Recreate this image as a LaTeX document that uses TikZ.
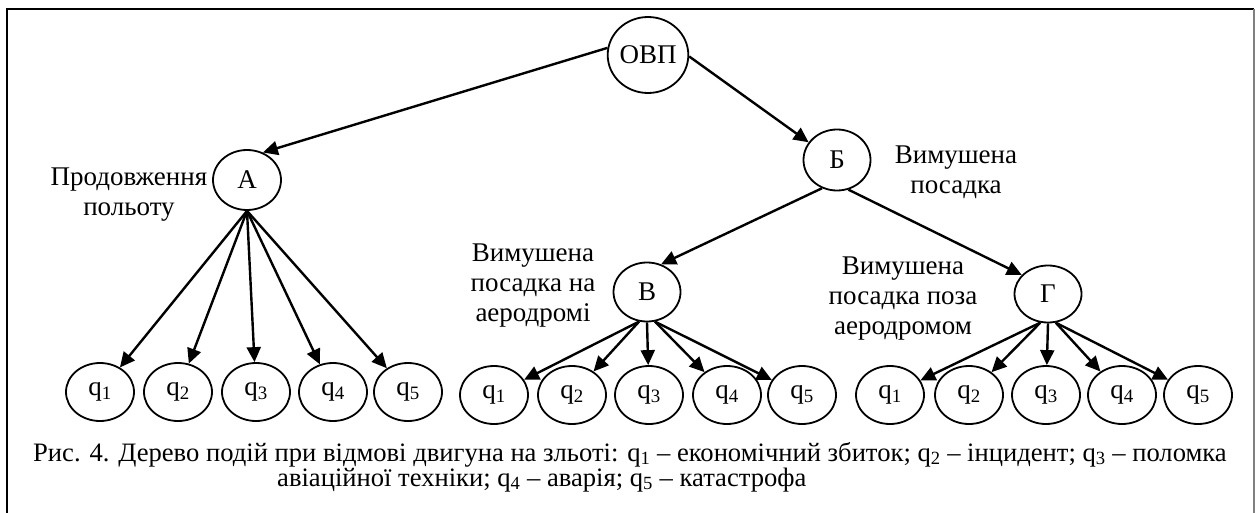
\documentclass[tikz,border=0pt]{standalone}
\usepackage{fontspec}
\setmainfont{Liberation Serif}
\usetikzlibrary{arrows, arrows.meta}
\usetikzlibrary{shapes.geometric}

\begin{document}
\begin{tikzpicture}[x=1pt, y=-1pt,
    event/.style={ellipse, draw, line width=1.8pt, inner sep=0pt, minimum width=67pt, minimum height=59pt, font=\fontsize{27}{30}\selectfont},
    outcome/.style={ellipse, draw, line width=1.8pt, inner sep=0pt, minimum width=68pt, minimum height=58pt, font=\fontsize{27}{30}\selectfont},
    note/.style={align=center, inner sep=0pt, font=\fontsize{27}{30}\selectfont},
    caption/.style={anchor=base west, inner sep=0pt, font=\fontsize{26.6}{20}\selectfont},
    arr/.style={-{Triangle[length=15pt, width=14pt]}, line width=2.4pt}]
    \useasboundingbox (0,0) rectangle (1255,513);
    % frame
    \draw[line width=2pt] (7,513) -- (7,9) -- (1254,9);
    \draw[gray, line width=1.2pt] (1254,9) -- (1254,513);

    \node[event, minimum width=77pt, minimum height=76pt] (ovp) at (648,55) {ОВП};
    \node[event, minimum width=68pt, minimum height=60pt] (a) at (247,180) {А};
    \node[event, minimum height=61pt] (b) at (837,160) {Б};
    \node[event] (v) at (647,292) {В};
    \node[event, minimum height=57pt] (g) at (1048,294) {Г};

    \node[outcome] (a1) at (100,392) {q\textsubscript{1}};
    \node[outcome] (a2) at (178,392) {q\textsubscript{2}};
    \node[outcome] (a3) at (256,392) {q\textsubscript{3}};
    \node[outcome] (a4) at (333,392) {q\textsubscript{4}};
    \node[outcome] (a5) at (408,392) {q\textsubscript{5}};

    \node[outcome] (v1) at (494,395) {q\textsubscript{1}};
    \node[outcome] (v2) at (572,395) {q\textsubscript{2}};
    \node[outcome] (v3) at (649,395) {q\textsubscript{3}};
    \node[outcome] (v4) at (727,395) {q\textsubscript{4}};
    \node[outcome] (v5) at (802,395) {q\textsubscript{5}};

    \node[outcome] (g1) at (890,395) {q\textsubscript{1}};
    \node[outcome] (g2) at (969,395) {q\textsubscript{2}};
    \node[outcome] (g3) at (1046,395) {q\textsubscript{3}};
    \node[outcome] (g4) at (1122,395) {q\textsubscript{4}};
    \node[outcome] (g5) at (1198,395) {q\textsubscript{5}};

    \node[note] (lbla) at (129,195) {Продовження\\польоту};
    \node[note] (lblb) at (956,172) {Вимушена\\посадка};
    \node[note] (lblv) at (533,286) {Вимушена\\посадка на\\аеродромі};
    \node[note] (lblg) at (903,299) {Вимушена\\посадка поза\\аеродромом};

    \node[caption] (cap1) at (33,461) {Рис. 4. Дерево подій при відмові двигуна на зльоті: q\textsubscript{1} – економічний збиток; q\textsubscript{2} – інцидент; q\textsubscript{3} – поломка};
    \node[caption] (cap2) at (277,486) {авіаційної техніки; q\textsubscript{4} – аварія; q\textsubscript{5} – катастрофа};

    \draw[arr] (ovp.170) -- (a.60);
    \draw[arr] (ovp.358) -- (b.148);
    \draw[arr] (b.242) -- (v.63);
    \draw[arr] (b.291) -- (g.144);

    \draw[arr] (a.south) -- (a1);
    \draw[arr] (a.south) -- (a2);
    \draw[arr] (a.south) -- (a3);
    \draw[arr] (a.south) -- (a4);
    \draw[arr] (a.south) -- (a5);

    \draw[arr] (v.255) -- (v1);
    \draw[arr] (v.255) -- (v2);
    \draw[arr] (v.south) -- (v3);
    \draw[arr] (v.285) -- (v4);
    \draw[arr] (v.285) -- (v5);

    \draw[arr] (g.255) -- (g1);
    \draw[arr] (g.255) -- (g2);
    \draw[arr] (g.south) -- (g3);
    \draw[arr] (g.285) -- (g4);
    \draw[arr] (g.285) -- (g5);
  \end{tikzpicture}
\end{document}
